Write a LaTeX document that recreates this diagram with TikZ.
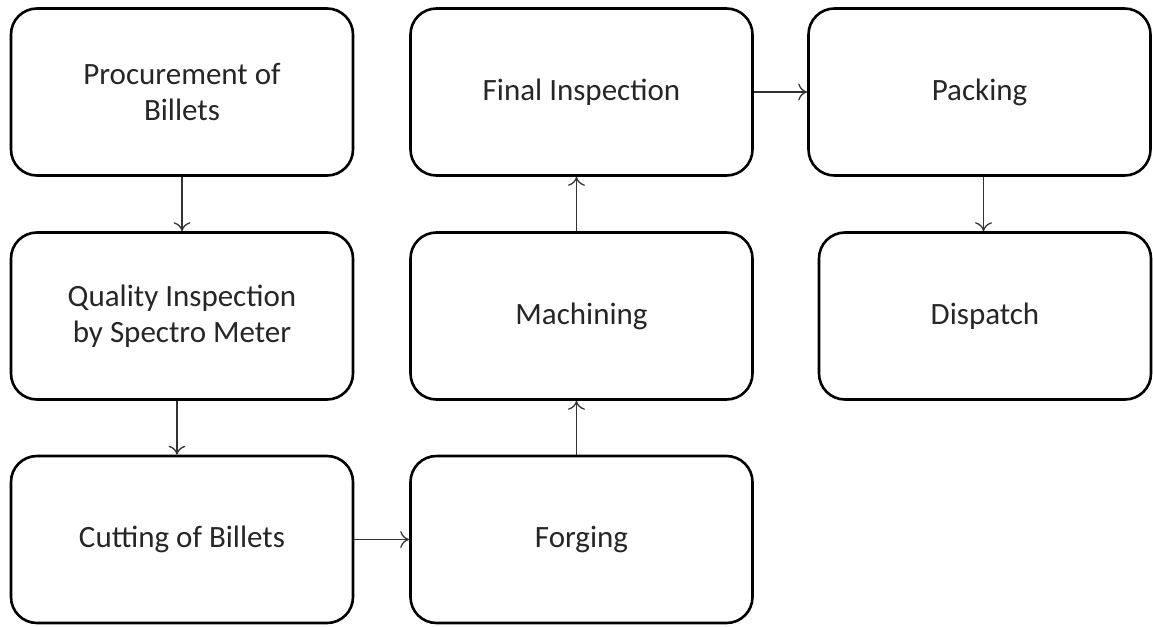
\documentclass[tikz,border=0pt]{standalone}
\usepackage{fontspec}
\setmainfont{Carlito}
\usetikzlibrary{arrows.meta,calc}
\tikzset{
  stage/.style={draw=black, line width=2.6pt, rounded corners=26pt, fill=white,
    minimum width=342pt, minimum height=167pt, inner sep=0pt, align=center,
    font=\fontsize{31}{36}\selectfont, text=black!85},
  flow/.style={draw=black!80, line width=1.3pt, -{To[length=9pt,width=17pt]}}
}
\begin{document}
\begin{tikzpicture}[x=1pt,y=-1pt]
\useasboundingbox (0,0) rectangle (1153,626);
\node[stage] (proc) at (182,92) {Procurement of\\Billets};
\node[stage] (qual) at (182,316) {Quality Inspection\\by Spectro Meter};
\node[stage] (cut) at (182,539.5) {Cutting of Billets};
\node[stage] (forg) at (581.5,539.5) {Forging};
\node[stage] (mach) at (581.5,316) {Machining};
\node[stage] (fin) at (581.5,92) {Final Inspection};
\node[stage] (pack) at (979.5,92) {Packing};
\node[stage, minimum width=332pt] (disp) at (985,316) {Dispatch};
\draw[flow] (proc.south) -- (qual.north);
\draw[flow] ([xshift=-5pt]qual.south) -- ([xshift=-5pt]cut.north);
\draw[flow] (cut.east) -- (forg.west);
\draw[flow] ([xshift=-5pt]forg.north) -- ([xshift=-5pt]mach.north |- mach.south);
\draw[flow] ([xshift=-5pt]mach.north) -- ([xshift=-5pt]fin.south);
\draw[flow] (fin.east) -- (pack.west);
\draw[flow] ([xshift=4pt]pack.south) -- ([xshift=4pt]pack.south |- disp.north);
\end{tikzpicture}
\end{document}
